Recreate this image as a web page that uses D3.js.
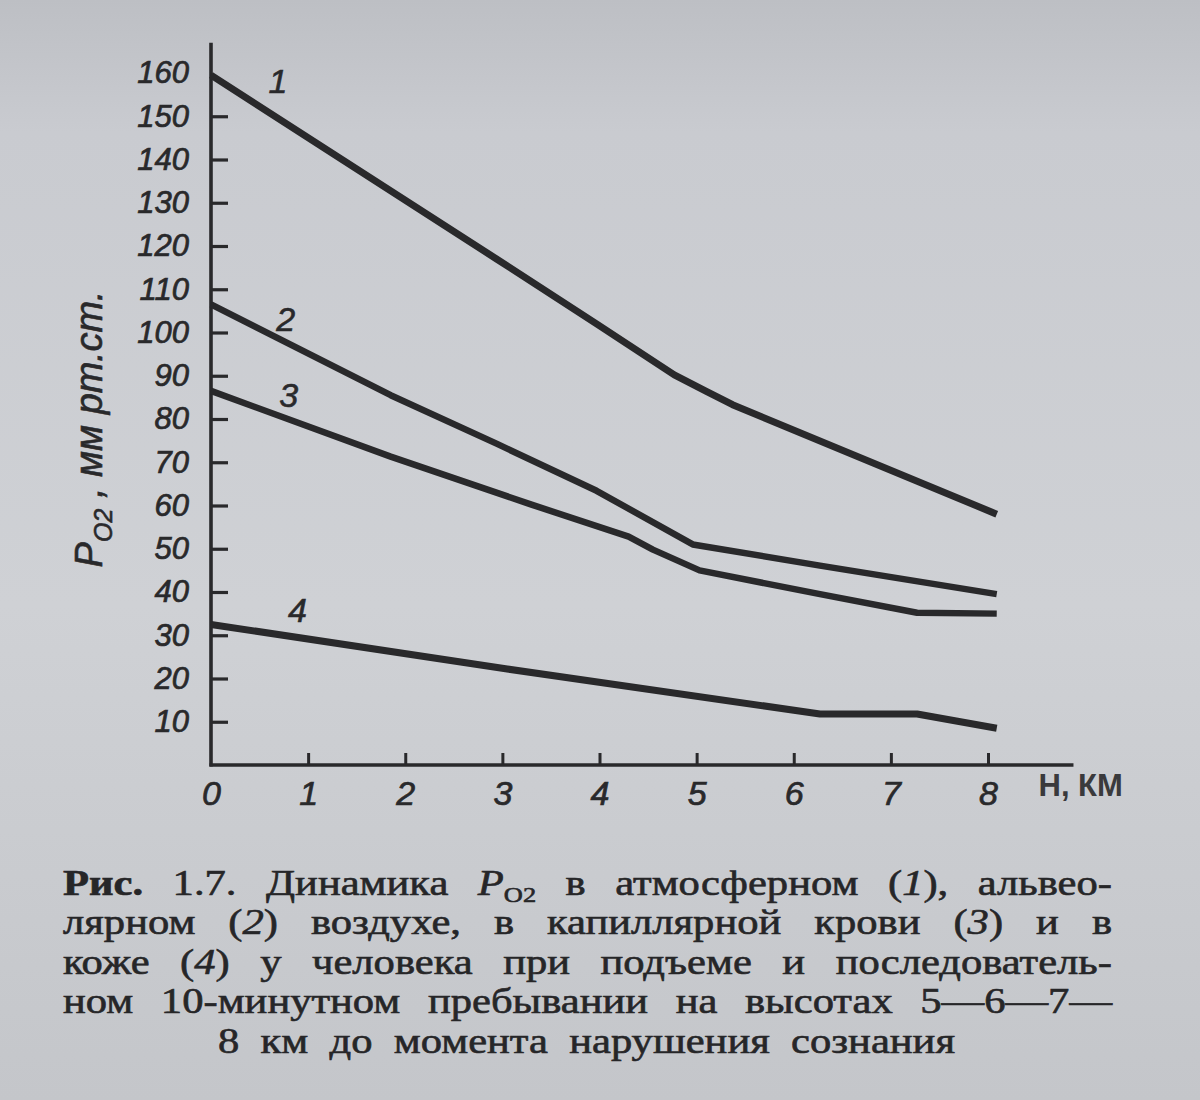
<!DOCTYPE html>
<html>
<head>
<meta charset="utf-8">
<script src="https://cdn.jsdelivr.net/npm/d3@7"></script>
<style>
  html, body { margin: 0; padding: 0; background: #cbcdd2; }
  svg { display: block; }
</style>
</head>
<body>
<svg id="chart" width="1200" height="1100"></svg>
<script>
// ---------------- DATA ----------------
// 1 – atmospheric air
const atmKm  = [0, 2.94, 3.97, 4.77, 5.1, 5.37, 8.09];
const atmPO2 = [159.5, 117, 102, 90.2, 86.4, 83.3, 58];
// 2 – alveolar air
const alvKm  = [0, 1.85, 2.94, 3.97, 4.96, 6.27, 8.09];
const alvPO2 = [106.5, 85.5, 74.3, 63.4, 51, 46.1, 39.5];
// 3 – capillary blood
const capKm  = [0, 1.85, 3.3, 4.3, 4.55, 5.03, 6.27, 7.27, 8.09];
const capPO2 = [86.5, 71.3, 60.2, 52.8, 49.8, 45, 39.5, 35.2, 35];
// 4 – skin
const skinKm  = [0, 3.05, 6.27, 7.27, 8.09];
const skinPO2 = [32.5, 22.2, 11.8, 11.8, 8.5];

const seriesNames = ["1", "2", "3", "4"];
const xTickValues = [0, 1, 2, 3, 4, 5, 6, 7, 8];
const yTickValues = [10, 20, 30, 40, 50, 60, 70, 80, 90, 100, 110, 120, 130, 140, 150, 160];
const xAxisTitle = "Н, КМ";
const yAxisTitleMain = "P";
const yAxisTitleSub = "O2";
const yAxisTitleRest = " , мм рт.ст.";

// caption: each word = list of segments
const captionLines = [
  [[{t:"Рис.", b:1}], [{t:"1.7."}], [{t:"Динамика"}], [{t:"P", i:1}, {t:"O2", sub:1}], [{t:"в"}],
   [{t:"атмосферном"}], [{t:"("}, {t:"1", i:1}, {t:"),"}], [{t:"альвео-"}]],
  [[{t:"лярном"}], [{t:"("}, {t:"2", i:1}, {t:")"}], [{t:"воздухе,"}], [{t:"в"}], [{t:"капиллярной"}],
   [{t:"крови"}], [{t:"("}, {t:"3", i:1}, {t:")"}], [{t:"и"}], [{t:"в"}]],
  [[{t:"коже"}], [{t:"("}, {t:"4", i:1}, {t:")"}], [{t:"у"}], [{t:"человека"}], [{t:"при"}],
   [{t:"подъеме"}], [{t:"и"}], [{t:"последователь-"}]],
  [[{t:"ном"}], [{t:"10-минутном"}], [{t:"пребывании"}], [{t:"на"}], [{t:"высотах"}], [{t:"5—6—7—"}]],
  [[{t:"8"}], [{t:"км"}], [{t:"до"}], [{t:"момента"}], [{t:"нарушения"}], [{t:"сознания"}]]
];

// ---------------- DRAWING ----------------
const svg = d3.select("#chart");
const W = 1200, H = 1100;
const ink = "#29292b";

// paper background
const defs = svg.append("defs");
const grad = defs.append("linearGradient").attr("id", "paper").attr("x1", 0).attr("y1", 0).attr("x2", 0).attr("y2", 1);
grad.append("stop").attr("offset", "0%").attr("stop-color", "#bdbfc4");
grad.append("stop").attr("offset", "12%").attr("stop-color", "#c9cbd0");
grad.append("stop").attr("offset", "55%").attr("stop-color", "#cfd1d5");
grad.append("stop").attr("offset", "100%").attr("stop-color", "#c4c6ca");
svg.append("rect").attr("width", W).attr("height", H).attr("fill", "url(#paper)");

const x = d3.scaleLinear().domain([0, 8]).range([211, 988]);
const y = d3.scaleLinear().domain([0, 160]).range([765, 73]);

const axisFont = "'Liberation Sans', Arial, sans-serif";

// Y axis (ticks pointing inward, labels on the left)
const yAxis = d3.axisLeft(y).tickValues(yTickValues).tickSize(-17).tickPadding(22).tickFormat(d3.format("d"));
const gy = svg.append("g").attr("transform", `translate(${x(0)},0)`).call(yAxis);
gy.select(".domain").remove();
gy.selectAll(".tick line").attr("stroke", ink).attr("stroke-width", 3.2)
  .filter(d => d === 160).remove();
gy.selectAll(".tick text").attr("fill", ink).attr("stroke", ink).attr("stroke-width", 0.7)
  .attr("font-family", axisFont).attr("font-style", "italic").attr("font-size", 31);

// X axis (ticks pointing up, labels below)
const xAxis = d3.axisBottom(x).tickValues(xTickValues).tickSize(-12).tickPadding(16).tickFormat(d3.format("d"));
const gx = svg.append("g").attr("transform", `translate(0,${y(0)})`).call(xAxis);
gx.select(".domain").remove();
gx.selectAll(".tick line").attr("stroke", ink).attr("stroke-width", 3)
  .filter(d => d === 0).remove();
gx.selectAll(".tick text").attr("fill", ink).attr("stroke", ink).attr("stroke-width", 0.7)
  .attr("font-family", axisFont).attr("font-style", "italic").attr("font-size", 34);

// axis lines
svg.append("line").attr("x1", x(0)).attr("x2", x(0)).attr("y1", y(0) + 1.5).attr("y2", y(167))
  .attr("stroke", ink).attr("stroke-width", 3.6);
svg.append("line").attr("x1", x(0) - 1.5).attr("x2", x(8.88)).attr("y1", y(0)).attr("y2", y(0))
  .attr("stroke", ink).attr("stroke-width", 3.6);

// axis titles
svg.append("text").attr("x", x(8.52)).attr("y", y(0) + 31)
  .attr("font-family", axisFont).attr("font-size", 31).attr("font-weight", "bold")
  .attr("fill", "#3a3a3c").text(xAxisTitle);

const yt = svg.append("text").attr("transform", "translate(102,429) rotate(-90)")
  .attr("text-anchor", "middle").attr("font-family", axisFont).attr("font-style", "italic")
  .attr("font-size", 38).attr("fill", ink).attr("stroke", ink).attr("stroke-width", 0.6);
yt.append("tspan").text(yAxisTitleMain);
yt.append("tspan").text(yAxisTitleSub).attr("font-size", 25).attr("dy", 10);
yt.append("tspan").text(yAxisTitleRest).attr("dy", -10);

// series lines
const series = [
  {km: atmKm, v: atmPO2, w: 7},
  {km: alvKm, v: alvPO2, w: 6.5},
  {km: capKm, v: capPO2, w: 6.5},
  {km: skinKm, v: skinPO2, w: 7}
];
const line = d3.line().x(d => x(d[0])).y(d => y(d[1]));
series.forEach(s => {
  svg.append("path").datum(s.km.map((k, i) => [k, s.v[i]]))
    .attr("d", line).attr("fill", "none").attr("stroke", ink)
    .attr("stroke-width", s.w).attr("stroke-linejoin", "round").attr("stroke-linecap", "butt");
});

// series labels
const labelPos = [[0.69, 155.3], [0.77, 100.3], [0.80, 82.7], [0.89, 33.1]];
seriesNames.forEach((n, i) => {
  svg.append("text").attr("x", x(labelPos[i][0])).attr("y", y(labelPos[i][1]))
    .attr("text-anchor", "middle").attr("font-family", axisFont).attr("font-style", "italic")
    .attr("font-size", 34).attr("fill", ink).attr("stroke", ink).attr("stroke-width", 0.6).text(n);
});

// caption (justified, slightly widened glyphs)
const capFont = "'Liberation Serif', 'Times New Roman', serif";
const sx = 1.2;
const capG = svg.append("g").attr("transform", `scale(${sx},1)`);
const capBase = [895, 934.5, 974, 1013.5, 1053];
const capBounds = [[63, 1112], [63, 1112], [63, 1112], [63, 1112], [218, 955]];
captionLines.forEach((words, li) => {
  const nodes = words.map(w => {
    const t = capG.append("text").attr("y", capBase[li]).attr("font-family", capFont)
      .attr("font-size", 35.5).attr("fill", "#262628").attr("stroke", "#262628").attr("stroke-width", 0.6);
    w.forEach(seg => {
      const ts = t.append("tspan").text(seg.t);
      if (seg.i) ts.attr("font-style", "italic");
      if (seg.b) ts.attr("font-weight", "bold");
      if (seg.sub) ts.attr("font-size", 22).attr("dy", 7);
    });
    return t;
  });
  const widths = nodes.map(n => n.node().getComputedTextLength());
  const total = d3.sum(widths);
  const x0 = capBounds[li][0] / sx, x1 = capBounds[li][1] / sx;
  const gap = (x1 - x0 - total) / (nodes.length - 1);
  let cx = x0;
  nodes.forEach((n, i) => { n.attr("x", cx); cx += widths[i] + gap; });
});
</script>
</body>
</html>
